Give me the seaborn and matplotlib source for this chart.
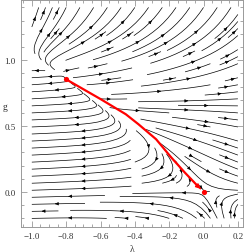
import numpy as np
import matplotlib
matplotlib.use("Agg")
import matplotlib.pyplot as plt
import seaborn as sns
import pandas as pd

# fixed points (lambda, g)
ngfp_lam, ngfp_g = -0.8, 0.86
gfp_lam, gfp_g = 0.0, 0.0

# red trajectory from the NGFP down to the GFP
sep_lam = [-0.794, -0.6, -0.453, -0.38, -0.276, -0.188, -0.11, -0.03]
sep_g = [0.85, 0.705, 0.59, 0.515, 0.40, 0.262, 0.149, 0.04]

x_ticks = [-1.0, -0.8, -0.6, -0.4, -0.2, 0.0, 0.2]
y_ticks = [0.0, 0.5, 1.0]

# coefficients of the flow field (IR direction)
a, s0, s1, k, d = 0.08, 0.1, 1.0, 2.0, 3.0


def s_of(lam):
    return s0 + s1 * (lam + 1) ** 2


b = ngfp_g / (-k * ngfp_g / (2 * ngfp_lam) - 1)
g1 = ngfp_g / (1 - a * ngfp_lam / (2 * s_of(ngfp_lam) * ngfp_g))


def flow(lam, g):
    u = 2 * lam * (1 + g / b) + k * g
    v = -2 * s_of(lam) * g * (1 - g / g1) + a * lam + d * g**3 * (g - ngfp_g) ** 2
    return u, v


sns.set_style("ticks")
plt.rcParams["font.family"] = ["Liberation Serif", "DejaVu Serif"]

fig = plt.figure(figsize=(2.49, 2.53), dpi=100)
ax = fig.add_axes([0.083, 0.099, 0.893, 0.899])

lam = np.linspace(-1.0, 0.2, 120)
gg = np.linspace(-0.2, 1.4, 160)
L, G = np.meshgrid(lam, gg)
U, V = flow(L, G)
ax.streamplot(L, G, U, V, density=1.05, color="black", linewidth=0.5,
              arrowsize=0.45, maxlength=1.0, minlength=0.05)

sep = pd.DataFrame({"lam": sep_lam, "g": sep_g})
sns.lineplot(data=sep, x="lam", y="g", color="red", lw=1.6, sort=False, ax=ax, zorder=5)
ax.annotate("", xy=(gfp_lam - 0.005, gfp_g + 0.01), xytext=(sep_lam[-1], sep_g[-1]),
            arrowprops=dict(arrowstyle="-|>", color="red", lw=1.2, mutation_scale=6), zorder=5)
pts = pd.DataFrame({"lam": [ngfp_lam, gfp_lam], "g": [ngfp_g, gfp_g]})
sns.scatterplot(data=pts, x="lam", y="g", color="red", s=14, linewidth=0, ax=ax, zorder=6)

ax.set_xlim(-1.065, 0.23)
ax.set_ylim(-0.265, 1.46)
ax.set_xticks(x_ticks)
ax.set_yticks(y_ticks)
ax.set_xticks(np.arange(-1.05, 0.23, 0.05), minor=True)
ax.set_yticks(np.arange(-0.2, 1.45, 0.1), minor=True)
ax.set_xticklabels(["\u22121.0", "\u22120.8", "\u22120.6", "\u22120.4", "\u22120.2", "0.0", "0.2"])
ax.set_yticklabels(["0.0", "0.5", "1.0"])
ax.tick_params(which="both", direction="in", top=True, right=True, color="#999999",
               labelsize=6.5, labelcolor="#333333", width=0.6)
ax.tick_params(which="major", length=4)
ax.tick_params(which="minor", length=2)
for sp in ax.spines.values():
    sp.set_color("#999999")
    sp.set_linewidth(0.7)
ax.set_xlabel("\u03bb", fontsize=7, color="#333333")
ax.set_ylabel("g", fontsize=7, color="#333333", rotation=0, ha="center", va="center")
ax.xaxis.set_label_coords(0.5, -0.075)
ax.yaxis.set_label_coords(-0.072, 0.53)

fig.savefig("out.png", dpi=100)
